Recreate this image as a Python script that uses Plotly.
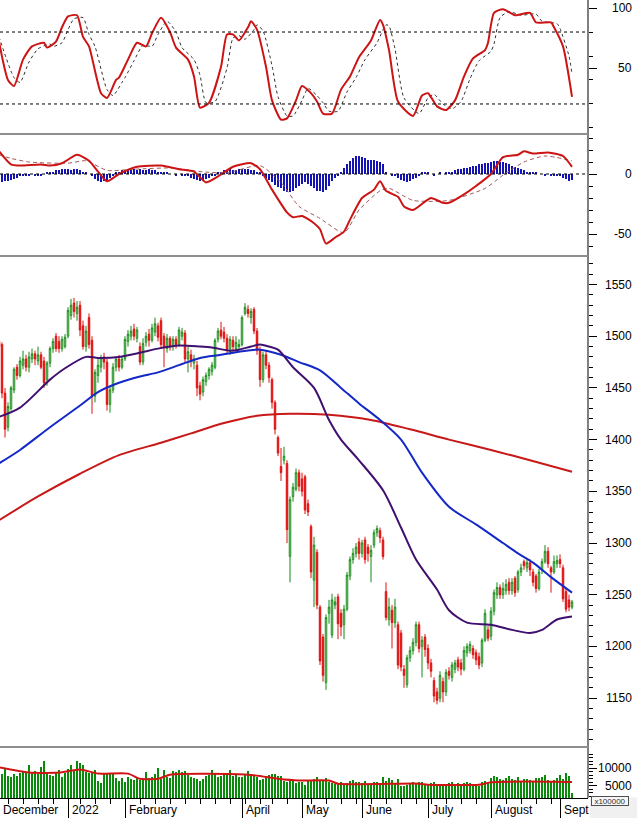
import pandas as pd
import plotly.graph_objects as go
from plotly.subplots import make_subplots

# ---------------- trading calendar (x categories) ----------------
holidays = pd.to_datetime(["2022-01-03", "2022-01-31", "2022-02-01", "2022-02-02", "2022-02-03",
                           "2022-02-04", "2022-04-11", "2022-05-02", "2022-05-03", "2022-09-01", "2022-09-02"])
dates = pd.bdate_range("2021-12-01", "2022-09-09")
dates = dates[~dates.isin(holidays)]
idx = list(range(len(dates)))

month_names = {12: "December", 1: "2022", 2: "February", 4: "April", 5: "May", 6: "June",
               7: "July", 8: "August", 9: "Sept"}

# ---------------- price (OHLC) ----------------
opens = [1495,1492,1445,1412,1430,1448,1470,1462,1472,1478,
         1470,1478,1483,1476,1482,1476,1458,1474,1488,1500,
         1495,1488,1490,1500,1520,1532,1522,1530,1510,1490,
         1518,1496,1442,1462,1470,1480,1475,1434,1448,1470,
         1478,1470,1478,1495,1500,1507,1498,1490,1475,1494,
         1502,1496,1504,1510,1515,1500,1488,1498,1490,1497,
         1492,1500,1503,1478,1482,1474,1472,1452,1446,1456,
         1462,1466,1470,1497,1506,1504,1498,1485,1496,1488,
         1490,1492,1522,1526,1518,1526,1505,1486,1458,1482,
         1472,1458,1436,1402,1374,1380,1377,1287,1345,1352,
         1368,1362,1364,1338,1316,1264,1291,1238,1209,1165,
         1232,1211,1240,1248,1232,1221,1236,1268,1284,1290,
         1301,1290,1303,1296,1287,1298,1310,1312,1303,1253,
         1226,1235,1223,1221,1213,1178,1163,1189,1196,1204,
         1221,1200,1209,1198,1184,1167,1156,1150,1166,1156,
         1176,1170,1178,1187,1184,1178,1194,1196,1198,1194,
         1190,1184,1206,1216,1210,1234,1250,1257,1250,1254,
         1262,1254,1266,1255,1272,1282,1276,1281,1272,1268,
         1256,1274,1282,1292,1276,1272,1280,1284,1276,1253,
         1245,1238]
highs = [1497,1494,1450,1436,1452,1470,1473,1480,1486,1482,
         1485,1488,1486,1490,1485,1480,1476,1490,1498,1503,
         1500,1500,1502,1528,1536,1537,1534,1534,1515,1510,
         1522,1500,1468,1478,1482,1484,1478,1452,1474,1480,
         1482,1480,1500,1506,1510,1512,1509,1494,1498,1504,
         1507,1512,1518,1513,1518,1503,1502,1500,1500,1500,
         1509,1508,1506,1490,1487,1482,1476,1456,1461,1465,
         1470,1475,1498,1508,1514,1509,1502,1500,1500,1500,
         1497,1520,1532,1530,1527,1528,1508,1490,1485,1486,
         1475,1460,1438,1404,1392,1393,1380,1345,1358,1372,
         1371,1368,1366,1342,1318,1306,1294,1240,1212,1231,
         1245,1251,1248,1251,1236,1240,1272,1287,1295,1300,
         1305,1303,1306,1299,1298,1313,1317,1315,1306,1262,
         1247,1240,1246,1224,1216,1182,1192,1200,1208,1224,
         1224,1210,1212,1202,1188,1170,1160,1176,1170,1178,
         1180,1185,1187,1190,1188,1200,1203,1205,1201,1197,
         1194,1208,1236,1220,1238,1255,1262,1260,1262,1265,
         1266,1266,1268,1274,1280,1284,1285,1284,1275,1270,
         1275,1285,1298,1296,1278,1288,1288,1289,1279,1256,
         1250,1245]
lows = [1485,1440,1402,1408,1428,1445,1458,1460,1468,1466,
        1465,1474,1472,1472,1468,1450,1452,1470,1484,1485,
        1484,1485,1488,1498,1516,1518,1515,1500,1487,1485,
        1488,1425,1436,1455,1465,1468,1428,1426,1445,1466,
        1466,1468,1476,1490,1496,1496,1494,1472,1472,1490,
        1490,1494,1500,1495,1488,1470,1484,1486,1486,1488,
        1490,1496,1474,1465,1470,1468,1442,1438,1442,1452,
        1458,1462,1468,1494,1497,1494,1482,1482,1485,1485,
        1487,1490,1520,1518,1512,1502,1482,1451,1455,1468,
        1455,1430,1405,1384,1360,1376,1300,1262,1340,1350,
        1350,1345,1328,1326,1266,1238,1236,1182,1166,1158,
        1222,1208,1236,1207,1210,1207,1234,1264,1280,1286,
        1284,1286,1280,1282,1262,1295,1306,1300,1284,1225,
        1220,1198,1218,1178,1176,1160,1160,1185,1192,1200,
        1194,1170,1190,1178,1170,1146,1144,1146,1146,1152,
        1168,1166,1174,1176,1172,1176,1190,1193,1188,1182,
        1178,1180,1204,1205,1206,1230,1246,1246,1246,1250,
        1250,1250,1248,1252,1268,1274,1272,1268,1258,1252,
        1254,1270,1280,1276,1252,1270,1276,1276,1243,1233,
        1234,1236]
closes = [1490,1445,1410,1432,1450,1468,1462,1476,1478,1470,
          1480,1483,1478,1482,1470,1455,1474,1488,1495,1488,
          1488,1497,1499,1525,1530,1524,1528,1506,1490,1505,
          1492,1442,1465,1472,1479,1475,1434,1448,1470,1478,
          1470,1478,1497,1502,1505,1500,1506,1475,1493,1500,
          1496,1508,1512,1499,1492,1490,1498,1490,1497,1492,
          1506,1504,1478,1485,1476,1478,1450,1444,1458,1462,
          1468,1472,1496,1505,1500,1498,1486,1497,1490,1494,
          1492,1518,1528,1522,1524,1505,1486,1458,1482,1472,
          1460,1436,1410,1387,1368,1384,1313,1342,1354,1368,
          1355,1350,1332,1330,1272,1298,1240,1186,1172,1228,
          1238,1245,1243,1222,1219,1236,1269,1284,1290,1296,
          1290,1300,1284,1290,1293,1310,1314,1305,1287,1228,
          1238,1223,1238,1182,1180,1172,1189,1196,1204,1221,
          1198,1206,1197,1184,1176,1152,1148,1172,1156,1175,
          1172,1182,1184,1180,1178,1196,1200,1202,1192,1187,
          1182,1206,1232,1208,1234,1252,1257,1250,1256,1260,
          1254,1262,1252,1272,1276,1278,1281,1274,1262,1256,
          1272,1282,1292,1280,1272,1282,1283,1280,1246,1236,
          1238,1243]

# moving averages (day index, value)
ma50_idx = [0, 7, 17, 22, 29, 33, 40, 47, 53, 60, 67, 71, 77, 80, 84, 87, 90, 93, 98, 105,
            110, 114, 120, 128, 134, 139, 146, 150, 156, 164, 171, 177, 181, 186, 191]
ma50 = [1422, 1431, 1458, 1469, 1480, 1479, 1480, 1484, 1488, 1491, 1490, 1489, 1486, 1487, 1490,
        1492, 1490, 1487, 1470, 1450, 1419, 1400, 1380, 1351, 1315, 1284, 1255, 1235, 1223, 1221,
        1216, 1213, 1216, 1226, 1229]
ma100_idx = [0, 7, 17, 27, 33, 40, 47, 53, 60, 67, 74, 80, 87, 94, 100, 107, 114, 120, 127, 134,
             141, 150, 159, 168, 173, 178, 184, 191]
ma100 = [1377, 1390, 1412, 1433, 1446, 1455, 1461, 1465, 1472, 1479, 1482, 1485, 1487, 1482, 1475,
         1467, 1450, 1435, 1419, 1400, 1368, 1335, 1318, 1300, 1290, 1281, 1267, 1252]
ma200_idx = [0, 13, 27, 40, 54, 64, 75, 86, 97, 110, 124, 137, 150, 164, 177, 191]
ma200 = [1322, 1345, 1367, 1385, 1397, 1406, 1416, 1423, 1425, 1424, 1419, 1410, 1400, 1390, 1380, 1369]

# ---------------- stochastic ----------------
k_idx = [0, 3, 5, 8, 11, 15, 16, 19, 21, 23, 26, 28, 30, 34, 36, 39, 40, 43, 46, 49,
         51, 54, 57, 59, 63, 65, 67, 70, 74, 76, 78, 80, 83, 84, 86, 89, 91, 94, 96, 99,
         101, 104, 106, 108, 111, 114, 117, 120, 124, 127, 128, 130, 133, 138, 141, 143, 146, 149, 152, 155,
         158, 162, 163, 165, 168, 172, 177, 179, 184, 185, 188, 191]
k_val = [72, 40, 35, 57, 68, 71, 67, 72, 84, 93, 94, 76, 68, 29, 25, 40, 42, 57, 71, 68,
         79, 92, 80, 67, 57, 43, 17, 21, 51, 78, 78, 73, 84, 89, 82, 51, 23, 7, 8, 23,
         35, 29, 22, 12, 12, 32, 43, 59, 73, 90, 86, 65, 22, 10, 27, 29, 18, 15, 23, 43,
         58, 65, 71, 96, 99, 94, 96, 88, 88, 84, 68, 26]
d_idx = [0, 5, 7, 10, 13, 17, 18, 21, 23, 25, 28, 30, 32, 36, 38, 41, 42, 45, 48, 51,
         53, 56, 59, 61, 65, 67, 69, 72, 76, 78, 80, 82, 85, 86, 88, 91, 93, 96, 98, 101,
         103, 106, 108, 110, 113, 116, 119, 122, 126, 129, 130, 132, 135, 140, 143, 145, 148, 151, 154, 157,
         160, 164, 165, 167, 170, 174, 179, 181, 186, 187, 190, 191]
d_val = [76, 42, 38, 55, 66, 70, 68, 71, 82, 91, 92, 78, 68, 32, 27, 38, 42, 56, 69, 68,
         78, 89, 80, 67, 57, 44, 21, 22, 50, 75, 77, 74, 82, 86, 81, 52, 26, 10, 10, 23,
         33, 27, 21, 14, 14, 30, 42, 57, 71, 86, 85, 66, 25, 12, 25, 28, 20, 16, 22, 41,
         56, 64, 70, 92, 97, 94, 95, 89, 87, 83, 60, 45]

# ---------------- MACD ----------------
m_idx = [0, 4, 7, 14, 17, 21, 26, 30, 33, 36, 40, 46, 54, 60, 65, 69, 73, 78, 84, 87,
         91, 96, 98, 101, 105, 107, 109, 112, 115, 117, 121, 125, 127, 129, 133, 135, 138, 142, 144, 148,
         150, 155, 159, 164, 168, 173, 175, 178, 183, 188, 191]
m_val = [19, 8, 7, 8, 7, 9, 16, 11, 2, -6, 0, 6, 7, 4, 2, -7, -2, 6, 9, 4,
         -13, -32, -36, -35, -41, -46, -58, -53, -48, -38, -20, -13, -6, -14, -19, -27, -30, -23, -20, -24,
         -24, -17, -10, 0, 14, 16, 19, 17, 18, 15, 6]
s_idx = [0, 4, 10, 23, 29, 36, 45, 58, 67, 76, 87, 94, 100, 107, 115, 120, 127, 130, 138, 150,
         162, 168, 175, 182, 191]
s_val = [16, 13, 10, 9, 11, 3, 4, 5, 2, 1, 7, -7, -27, -37, -49, -30, -14, -12, -22, -22,
         -12, -1, 10, 15, 11]
hist = [-7, -7, -6, -6, -5, -4, -3, -2, -2,
        -1, -1, 0, -1, -1, -1, 0,
        1, 2, 2, 3, 3, 4, 4, 4, 3, 4, 4, 3, 2, 1, 0,
        -2, -4, -6, -7, -6, -5, -3,
        -1, 1, 2, 3, 3, 3,
        3, 4, 3, 4, 3, 3, 4, 3, 3, 2, 2, 1, 1, 0, 0,
        -1, 0, -1, -1, -2,
        -3, -4, -5, -6, -5, -4, -3, -2, -1,
        1, 2, 3, 3, 4, 3, 3, 4, 4, 4, 4, 3, 3, 2, 1,
        -1, -3, -5, -7, -9, -11, -12, -14, -15, -15, -14, -12, -10,
        -8, -7, -8, -10, -12, -14, -14,
        -15, -13, -10, -6, -3, -1,
        2, 5, 8, 11,
        13, 15, 15, 14, 13, 12,
        12, 12, 11, 10, 8,
        2, 0, -1, -2,
        -3, -5, -6, -7, -6, -4, -3,
        -1, 1, 2, 1, 0, -1, 0, 1, 0,
        1, 2, 2, 3, 4, 4, 5, 5, 6, 7, 7, 8, 8, 9, 9,
        10, 11, 11, 10, 10, 9, 8,
        7, 6, 5, 4, 3, 2, 2,
        1, 1, 0, 0, -1, 0, -1, -1, -2, -2,
        -3, -4, -6, -5]

# ---------------- volume (x100000) ----------------
volume = [9200, 8500, 10200, 7800, 7600, 8300, 7900, 8800, 9000, 8700, 10900, 8600, 9300, 8400, 10500, 12000,
          9100, 8200, 7900, 8800, 9500, 7600, 8700,
          9800, 10900, 9300, 12000, 11500, 10900, 9000, 8700, 8800, 9400, 6500, 5800, 8400, 8600, 8500,
          8300, 7200, 6400, 7300,
          6200, 7600, 7000, 6800, 7400, 6600, 6900, 9100, 7200, 7500, 8300, 10100, 7000, 9600, 7600, 7300,
          9200, 9000, 9400, 8900, 9300, 8100, 7600, 7200, 6900, 6400, 7000, 7800, 8200, 9600, 8300, 7500,
          7900, 8600, 8700, 9500, 7800, 8200, 7400,
          7600, 8300, 9300, 8100, 7700, 7400, 6600, 7000, 7800, 8000, 8500, 8300, 7700, 7900, 6400, 6000,
          6300, 6500, 5800, 6000,
          6000, 5200, 6500, 6300, 7000, 7600, 6800, 6400, 7100, 6200, 5800, 5400, 5600, 6100, 5500, 5900,
          6300, 6600, 6000, 6200,
          5800, 6300, 5600, 5400, 6000, 6200, 5700, 7400, 6300, 7100, 6800, 5900, 6900, 5000, 4800, 5200,
          5600, 6100, 5800, 6200, 6000, 5600,
          5400, 5800, 6100, 5600, 5200, 5000, 5400, 5900, 6000, 5500, 5700, 5300, 5800, 6100, 5900, 5400,
          5600, 5000, 6000, 6300, 5800,
          7300, 7800, 7500, 7000, 6800, 7200, 7700, 6900, 6600, 7500, 6300, 7000, 6900, 6700, 6500, 7200,
          7100, 7400, 8000, 6700, 6500, 6800, 7300,
          8200, 6900, 8600, 7800, 2800]
vma_idx = [0, 10, 20, 27, 33, 43, 47, 53, 57, 83, 93, 100, 110, 113, 140, 143, 160, 164, 175, 191]
vma = [10300, 8800, 8800, 9700, 8500, 8500, 7000, 7000, 8200, 8200, 7000, 6500, 6500, 5600, 5600,
       5300, 5300, 6000, 6200, 6100]

# ---------------- figure ----------------
FONT = "Liberation Sans, Arial, sans-serif"
H = 798.0  # plot-area height in px


def py(p):
    return 1 - p / H


fig = make_subplots(rows=4, cols=1, shared_xaxes=True, vertical_spacing=0)

# stochastic
fig.add_trace(go.Scatter(x=d_idx, y=d_val, mode="lines",
                         line=dict(color="#303030", width=1, dash="dot", shape="spline", smoothing=0.6)), 1, 1)
fig.add_trace(go.Scatter(x=k_idx, y=k_val, mode="lines",
                         line=dict(color="#cc1414", width=2, shape="spline", smoothing=0.6)), 1, 1)

# MACD
fig.add_trace(go.Bar(x=idx, y=hist, width=0.6, marker=dict(color="#1414b4", line=dict(width=0))), 2, 1)
fig.add_trace(go.Scatter(x=s_idx, y=s_val, mode="lines",
                         line=dict(color="#a05a5a", width=1, dash="4px,3px", shape="spline", smoothing=0.6)), 2, 1)
fig.add_trace(go.Scatter(x=m_idx, y=m_val, mode="lines",
                         line=dict(color="#cc1414", width=2, shape="spline", smoothing=0.6)), 2, 1)

# price
fig.add_trace(go.Scatter(x=ma200_idx, y=ma200, mode="lines",
                         line=dict(color="#c81818", width=2, shape="spline", smoothing=0.8)), 3, 1)
fig.add_trace(go.Scatter(x=ma100_idx, y=ma100, mode="lines",
                         line=dict(color="#1428c8", width=2, shape="spline", smoothing=0.8)), 3, 1)
fig.add_trace(go.Scatter(x=ma50_idx, y=ma50, mode="lines",
                         line=dict(color="#401070", width=2, shape="spline", smoothing=0.8)), 3, 1)
fig.add_trace(go.Candlestick(x=idx, open=opens, high=highs, low=lows, close=closes,
                             increasing=dict(line=dict(color="#138a13", width=1), fillcolor="white"),
                             decreasing=dict(line=dict(color="#e01010", width=1), fillcolor="#e01010"),
                             whiskerwidth=0), 3, 1)

# volume
fig.add_trace(go.Bar(x=idx, y=volume, width=0.68, marker=dict(color="#0a8a0a", line=dict(width=0))), 4, 1)
fig.add_trace(go.Scatter(x=vma_idx, y=vma, mode="lines",
                         line=dict(color="#d01414", width=2, shape="spline", smoothing=0.6)), 4, 1)

xr = [0.33, 196.33]
for r in range(1, 5):
    fig.update_xaxes(range=xr, showgrid=False, zeroline=False, showticklabels=False,
                     rangeslider_visible=False, row=r, col=1)

# bottom x-axis ticks
month_starts = [i for i in idx if i == 0 or dates[i].month != dates[i - 1].month]
major = [i for i in month_starts if dates[i].month in month_names]
week_starts = [i for i in idx[1:] if dates[i].isocalendar()[1] != dates[i - 1].isocalendar()[1]]
minor_t = [i for i in week_starts if i not in month_starts]
fig.update_xaxes(showline=True, linecolor="black", linewidth=1, ticks="outside", tickvals=major,
                 ticklen=21, tickcolor="black", tickwidth=1,
                 minor=dict(tickmode="array", tickvals=minor_t, ticks="outside", ticklen=5,
                            tickcolor="black", tickwidth=1),
                 row=4, col=1)

ycommon = dict(side="right", showgrid=False, zeroline=False, showticklabels=False, showline=False,
               ticks="outside", ticklen=8, tickcolor="black", tickwidth=1, fixedrange=True)
fig.update_yaxes(**ycommon, range=[-4.2, 106.7], domain=[py(133), py(0)], tickvals=[50, 100],
                 minor=dict(tickmode="array", tickvals=[0, 20, 40, 60, 80], ticks="outside", ticklen=4,
                            tickcolor="black"), row=1, col=1)
fig.update_yaxes(**ycommon, range=[-67.5, 32.5], domain=[py(255), py(135)], tickvals=[-50, 0],
                 minor=dict(tickmode="array", tickvals=[v for v in range(-60, 40, 10) if v not in (-50, 0)],
                            ticks="outside", ticklen=4, tickcolor="black"), row=2, col=1)
price_labels = [1150, 1200, 1250, 1300, 1350, 1400, 1450, 1500, 1550]
fig.update_yaxes(**ycommon, range=[1103.7, 1576.6], domain=[py(746), py(257)], tickvals=price_labels,
                 minor=dict(tickmode="array", tickvals=[v for v in range(1110, 1580, 10) if v % 50],
                            ticks="outside", ticklen=4, tickcolor="black"), row=3, col=1)
fig.update_yaxes(**ycommon, range=[1470, 15880], domain=[py(798), py(748)], tickvals=[5000, 10000],
                 minor=dict(tickmode="array", tickvals=[v for v in range(2000, 16000, 1000) if v % 5000],
                            ticks="outside", ticklen=4, tickcolor="black"), row=4, col=1)

shapes = []
# right axis line
shapes.append(dict(type="line", xref="paper", yref="paper", x0=1, x1=1, y0=0, y1=1,
                   line=dict(color="black", width=1)))
# panel separators
for p in (134, 256, 747):
    shapes.append(dict(type="line", xref="paper", yref="paper", x0=0, x1=1, y0=py(p), y1=py(p),
                       line=dict(color="#8f8f8f", width=2)))
# stochastic reference levels and MACD zero line
for lvl in (80, 20):
    shapes.append(dict(type="line", xref="paper", yref="y", x0=0, x1=1, y0=lvl, y1=lvl,
                       line=dict(color="black", width=1, dash="3px,3px")))
shapes.append(dict(type="line", xref="paper", yref="y2", x0=0, x1=1, y0=0, y1=0,
                   line=dict(color="black", width=1, dash="3px,3px")))
# grey corner panel
shapes.append(dict(type="rect", xref="paper", yref="paper", x0=590 / 588, x1=637 / 588,
                   y0=py(818), y1=py(797.5), fillcolor="#f0f0f0", line=dict(width=0), layer="above"))

annotations = []
XL = 634 / 588
for v in (100, 50):
    annotations.append(dict(x=XL, y=v, xref="paper", yref="y", text=str(v), showarrow=False,
                            xanchor="right", yanchor="middle", font=dict(family=FONT, size=12, color="black")))
for v in (0, -50):
    annotations.append(dict(x=XL, y=v, xref="paper", yref="y2", text=str(v), showarrow=False,
                            xanchor="right", yanchor="middle", font=dict(family=FONT, size=12, color="black")))
for v in price_labels:
    annotations.append(dict(x=XL, y=v, xref="paper", yref="y3", text=str(v), showarrow=False,
                            xanchor="right", yanchor="middle", font=dict(family=FONT, size=12, color="black")))
for v in (10000, 5000):
    annotations.append(dict(x=XL, y=v, xref="paper", yref="y4", text=str(v), showarrow=False,
                            xanchor="right", yanchor="middle", font=dict(family=FONT, size=12, color="black")))
for i in major:
    annotations.append(dict(x=i + 0.7, y=py(810), xref="x4", yref="paper", text=month_names[dates[i].month],
                            showarrow=False, xanchor="left", yanchor="middle",
                            font=dict(family=FONT, size=12, color="black")))
annotations.append(dict(x=610 / 588, y=py(801), xref="paper", yref="paper", text="x100000",
                        showarrow=False, xanchor="center", yanchor="middle", width=36, height=8,
                        bgcolor="#f6f6f6", bordercolor="#505050", borderwidth=1, borderpad=0,
                        font=dict(family=FONT, size=8, color="#303030")))

fig.update_layout(width=637, height=818, margin=dict(l=0, r=49, t=0, b=20),
                  plot_bgcolor="white", paper_bgcolor="white", showlegend=False,
                  shapes=shapes, annotations=annotations, bargap=0,
                  font=dict(family=FONT, size=12, color="black"))

fig.write_html("out.html")
